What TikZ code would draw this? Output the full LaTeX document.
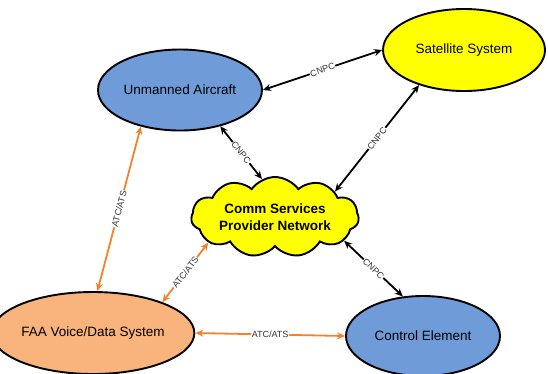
\documentclass[tikz,border=0pt]{standalone}
\usepackage{fontspec}
\setmainfont{Liberation Sans}
\usetikzlibrary{shapes.geometric,shapes.symbols,arrows.meta}
\definecolor{ublue}{HTML}{6F9BD8}
\definecolor{faaor}{HTML}{F8B47C}
\definecolor{lineor}{HTML}{F5822A}
\definecolor{yel}{HTML}{FFFF00}
\tikzset{
  ell/.style={ellipse, draw=black, line width=1.9pt, inner sep=0pt, font=\fontsize{13.5}{15}\selectfont},
  cnpc/.style={draw=black, line width=1.8pt, {Stealth[length=8pt,width=7pt]}-{Stealth[length=8pt,width=7pt]}},
  atc/.style={draw=lineor, line width=1.8pt, {Stealth[length=8pt,width=7pt]}-{Stealth[length=8pt,width=7pt]}},
  lab/.style={fill=white, inner sep=0.6pt, sloped, font=\fontsize{9}{10}\selectfont, text=black!80},
}
\begin{document}
\begin{tikzpicture}[x=1pt,y=-1pt]
\useasboundingbox (0,0) rectangle (548,373);
\node[ell, fill=ublue, minimum width=164pt, minimum height=81pt] (ua) at (180,90) {Unmanned Aircraft};
\node[ell, fill=yel, minimum width=162pt, minimum height=82pt] (sat) at (464,50) {Satellite System};
\node[ell, fill=faaor, minimum width=155pt, minimum height=82pt] (faa) at (93,333) {FAA Voice/Data System};
\node[ell, fill=ublue, minimum width=154pt, minimum height=80pt] (ce) at (423,336) {Control Element};
\node[cloud, draw=black, line width=1.9pt, fill=yel, cloud puffs=11, cloud puff arc=110, cloud ignores aspect, minimum width=162pt, minimum height=80pt, align=center, font=\bfseries\fontsize{13.5}{16.5}\selectfont] (cl) at (275,217) {Comm Services\\Provider Network};
\draw[cnpc] (ua.east) -- node[lab]{CNPC} (sat.west);
\draw[cnpc] (ua.-42) -- node[lab]{CNPC} (cl.109);
\draw[cnpc] (sat.218) -- node[lab]{CNPC} (cl.23);
\draw[cnpc] (cl.-19) -- node[lab]{CNPC} (ce.117);
\draw[atc] (ua.223) -- node[lab]{ATC/ATS} (faa.84);
\draw[atc] (cl.201) -- node[lab]{ATC/ATS} (faa.24);
\draw[atc] (faa.east) -- node[lab]{ATC/ATS} (ce.west);
\end{tikzpicture}
\end{document}
